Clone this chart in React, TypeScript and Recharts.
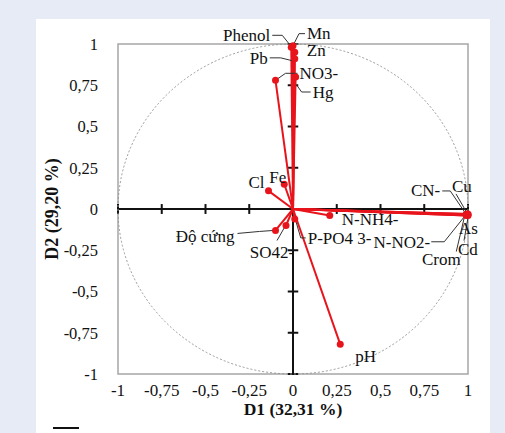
import React from 'react';
import { ScatterChart, Scatter, XAxis, YAxis, ReferenceLine, ReferenceArea, ReferenceDot, Label } from 'recharts';

// loadings on the first two axes
const variables = ['Mn', 'Phenol', 'Zn', 'Pb', 'NO3-', 'Hg', 'Fe', 'Cl', 'Độ cứng', 'SO42-', 'P-PO4 3-', 'N-NH4-', 'N-NO2-', 'Crom', 'Cd', 'As', 'CN-', 'Cu', 'pH'];
const d1Values = [0.0, -0.01, 0.01, 0.01, -0.1, 0.015, -0.05, -0.14, -0.1, -0.04, 0.01, 0.21, 0.99, 0.99, 1.0, 1.0, 0.99, 1.0, 0.27];
const d2Values = [0.99, 0.98, 0.95, 0.91, 0.78, 0.8, 0.15, 0.11, -0.13, -0.1, -0.06, -0.04, -0.035, -0.04, -0.04, -0.035, -0.03, -0.03, -0.82];
const axisTicks = [-1, -0.75, -0.5, -0.25, 0, 0.25, 0.5, 0.75, 1];

const data = variables.map((name, i) => ({ name, x: d1Values[i], y: d2Values[i] }));

// label placement (pixels, relative to each point)
type Layout = { dx: number; dy: number; anchor: 'start' | 'middle' | 'end'; leader?: number[][] };
const labelLayout: Record<string, Layout> = {
  Mn: { dx: 14, dy: -7, anchor: 'start', leader: [[1, -2], [6, -12], [12, -12]] },
  Phenol: { dx: -21, dy: -6, anchor: 'end', leader: [[-19, -12], [-9, -12], [-1, -2]] },
  Zn: { dx: 12, dy: 4, anchor: 'start' },
  Pb: { dx: -27, dy: 5, anchor: 'end', leader: [[-25, -1], [-14, -1], [-2, 2]] },
  'NO3-': { dx: 24, dy: -1, anchor: 'start', leader: [[0, 0], [10, -7], [22, -7]] },
  Hg: { dx: 17, dy: 21, anchor: 'start', leader: [[1, 8], [6, 15], [15, 15]] },
  Fe: { dx: 2, dy: -1, anchor: 'end' },
  Cl: { dx: -4, dy: -3, anchor: 'end' },
  'Độ cứng': { dx: -41, dy: 12, anchor: 'end', leader: [[-38, 3], [-16, 1], [-2, 0]] },
  'SO42-': { dx: -14, dy: 32, anchor: 'middle', leader: [[-9, 15], [-1, 1]] },
  'P-PO4 3-': { dx: 13, dy: 25, anchor: 'start', leader: [[1, 2], [6, 19], [11, 19]] },
  'N-NH4-': { dx: 12, dy: 9, anchor: 'start' },
  'N-NO2-': { dx: -36, dy: 33, anchor: 'end', leader: [[-35, 27], [-22, 27], [-2, 2]] },
  Crom: { dx: -25, dy: 49, anchor: 'middle', leader: [[-10, 36], [-2, 2]] },
  Cd: { dx: -10, dy: 39, anchor: 'start', leader: [[-4, 25], [0, 2]] },
  As: { dx: -9, dy: 19, anchor: 'start' },
  'CN-': { dx: -26, dy: -18, anchor: 'end', leader: [[-24, -23], [-16, -23], [-1, -1]] },
  Cu: { dx: -16, dy: -22, anchor: 'start', leader: [[-12, -20], [-1, -1]] },
  pH: { dx: 15, dy: 18, anchor: 'start' },
};

const RED = '#e8141c';
const FONT = "'Liberation Serif', serif";
const W = 505;
const H = 433;
const PLOT_W = 350;
const PLOT_H = 330;

const fmt = (v: number) => String(v).replace('.', ',');

const VectorPoint = (props: any) => {
  const { cx, cy, payload } = props;
  const lay = labelLayout[payload.name];
  return (
    <g>
      {lay.leader && (
        <polyline
          points={lay.leader.map(([px, py]) => `${cx + px},${cy + py}`).join(' ')}
          fill="none"
          stroke="#333"
          strokeWidth={1}
        />
      )}
      <circle cx={cx} cy={cy} r={3.5} fill={RED} />
      <text x={cx + lay.dx} y={cy + lay.dy} textAnchor={lay.anchor} fill="#111" style={{ fontFamily: FONT, fontSize: 17 }}>
        {payload.name}
      </text>
    </g>
  );
};

const App: React.FC = () => {
  return (
    <div style={{ position: 'absolute', left: 0, top: 0, width: W, height: H, background: '#e7ebf6', overflow: 'hidden', fontFamily: FONT }}>
      <div style={{ position: 'absolute', left: 36, top: 19, width: 454, height: H - 19, background: '#ffffff' }} />
      <div style={{ position: 'absolute', left: 53, top: 427, width: 26, height: 2, background: '#111' }} />
      <div style={{ position: 'absolute', left: 0, top: 0 }}>
        <ScatterChart width={W} height={H} margin={{ top: 44, right: 37, bottom: 19, left: 38 }} style={{ fontFamily: FONT }}>
          <XAxis
            type="number"
            dataKey="x"
            domain={[-1, 1]}
            ticks={axisTicks}
            tickFormatter={fmt}
            axisLine={false}
            tickLine={false}
            tickMargin={4}
            height={40}
            tick={{ fontSize: 17, fill: '#111', style: { fontFamily: FONT } }}
          >
            <Label value="D1 (32,31 %)" position="insideBottom" offset={-1} fontSize={17.5} fontWeight="bold" fill="#111" style={{ fontFamily: FONT }} />
          </XAxis>
          <YAxis
            type="number"
            dataKey="y"
            domain={[-1, 1]}
            ticks={axisTicks}
            tickFormatter={fmt}
            axisLine={false}
            tickLine={false}
            tickMargin={14}
            width={80}
            tick={{ fontSize: 16.5, fill: '#111', style: { fontFamily: FONT } }}
          >
            <Label value="D2 (29,20 %)" angle={-90} position="center" dx={-26} fontSize={18} fontWeight="bold" fill="#111" style={{ fontFamily: FONT }} />
          </YAxis>
          <ReferenceArea x1={-1} x2={1} y1={-1} y2={1} fill="none" stroke="#a6a6a6" strokeWidth={1.5} />
          <ReferenceDot
            x={0}
            y={0}
            shape={(p: any) => (
              <ellipse cx={p.cx} cy={p.cy} rx={PLOT_W / 2} ry={PLOT_H / 2} fill="none" stroke="#9a9a9a" strokeWidth={1} strokeDasharray="2 2" />
            )}
          />
          <ReferenceLine y={0} stroke="#111" strokeWidth={2} />
          <ReferenceLine x={0} stroke="#111" strokeWidth={2} />
          {axisTicks.filter((t) => t !== 0).map((t) => (
            <ReferenceLine key={`tx${t}`} segment={[{ x: t, y: -0.03 }, { x: t, y: 0.03 }]} stroke="#111" strokeWidth={2} />
          ))}
          {axisTicks.filter((t) => t !== 0).map((t) => (
            <ReferenceLine key={`ty${t}`} segment={[{ x: -0.03, y: t }, { x: 0.03, y: t }]} stroke="#111" strokeWidth={2} />
          ))}
          {data.map((d) => (
            <ReferenceLine key={`v${d.name}`} segment={[{ x: 0, y: 0 }, { x: d.x, y: d.y }]} stroke={RED} strokeWidth={2} />
          ))}
          <Scatter data={data} shape={VectorPoint} isAnimationActive={false} />
        </ScatterChart>
      </div>
    </div>
  );
};

export default App;
